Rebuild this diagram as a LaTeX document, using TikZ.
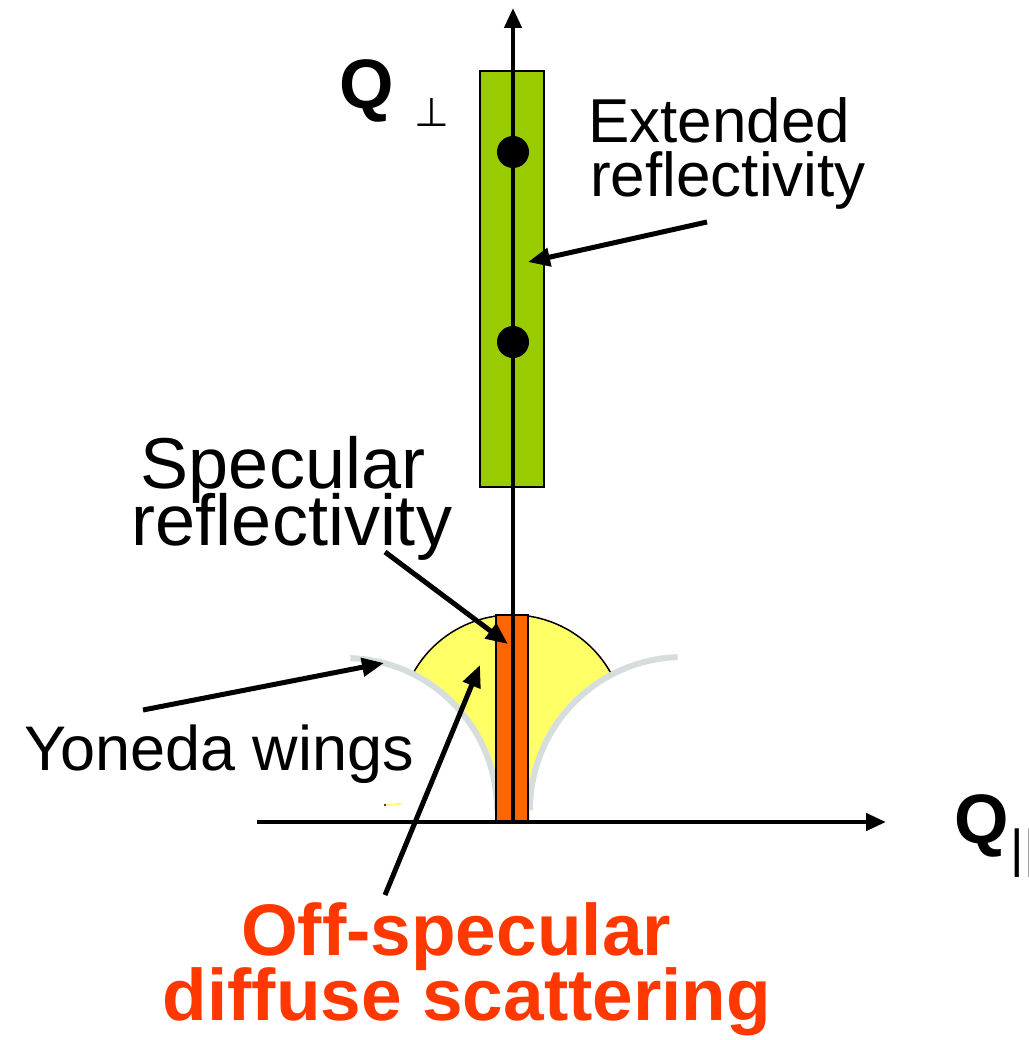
\documentclass[tikz,border=0pt]{standalone}
\usepackage{fontspec}
\setmainfont{Liberation Sans}
\newfontfamily\djv{DejaVu Sans}
\usetikzlibrary{arrows.meta}
\definecolor{grn}{RGB}{153,204,0}
\definecolor{org}{RGB}{255,102,0}
\definecolor{yel}{RGB}{255,255,102}
\definecolor{wingc}{RGB}{214,221,221}
\definecolor{offc}{RGB}{255,56,0}
\tikzset{
  axis/.style={line width=4.5pt,-{Triangle[length=20pt,width=17pt]}},
  pointer/.style={line width=5pt,-{Triangle[length=22pt,width=18pt]}},
  lbl/.style={inner sep=0pt,anchor=base},
  dot/.style={circle,fill=black,minimum size=32pt,inner sep=0pt},
  wing/.style={wingc,line width=6pt},
}
\begin{document}
\begin{tikzpicture}[x=1pt,y=-1pt]
\useasboundingbox (0,0) rectangle (1028,1040);
% yellow diffuse region
\begin{scope}
  \clip (0,0) rectangle (1028,822);
  \clip (512,728) circle (113pt);
  \fill[yel,even odd rule] (0,0) rectangle (1028,1040) (345,810) circle (152pt) (683,810) circle (153pt);
\end{scope}
\draw[line width=1.5pt] (412.8,673.8) arc[start angle=151.4,end angle=28.2,radius=113pt];
% Yoneda wings
\draw[wing] (350.3,658.1) arc[start angle=88,end angle=0,radius=152pt];
\draw[wing] (530,810) arc[start angle=180,end angle=92,radius=153pt];
% small speck
\draw[yel,line width=2pt] (386,805) -- (401,804);
\fill (385,805) circle (1.2pt);
% rectangles
\node[draw=black,line width=1.5pt,fill=org,minimum width=32pt,minimum height=207pt,inner sep=0pt] (spec) at (512,718.5) {};
\node[draw=black,line width=2pt,fill=grn,minimum width=64pt,minimum height=416pt,inner sep=0pt] (ext) at (512,279) {};
% axes
\coordinate (O) at (513,822);
\coordinate (ytip) at (513,8);
\coordinate (xs) at (257,822);
\coordinate (xtip) at (886,822);
\draw[axis] (O) -- (ytip);
\draw[axis] (xs) -- (xtip);
% dots
\node[dot] (d1) at (513,152) {};
\node[dot] (d2) at (513,342) {};
% labels
\node[lbl,font=\fontsize{70}{76}\selectfont\bfseries] (qperp) at (367,109) {Q};
\node[lbl,font=\fontsize{40}{44}\selectfont\djv] (perp) at (432,127) {⊥};
\node[lbl,font=\fontsize{70}{76}\selectfont\bfseries] (qpar) at (982,843) {Q};
\node[inner sep=0pt,anchor=base west,font=\fontsize{52}{56}\selectfont] (par) at (1010.3,866) {||};
\node[lbl,font=\fontsize{62}{70}\selectfont] (ext1) at (719,143) {Extended};
\node[lbl,font=\fontsize{62}{70}\selectfont] (ext2) at (728,197) {reflectivity};
\node[lbl,font=\fontsize{72}{78}\selectfont] (sp1) at (283,488) {Specular};
\node[lbl,font=\fontsize{72}{78}\selectfont] (sp2) at (292,545) {reflectivity};
\node[lbl,font=\fontsize{63}{70}\selectfont] (yon) at (219,770) {Yoneda wings};
\node[lbl,font=\fontsize{73}{78}\selectfont\bfseries,text=offc] (off1) at (456,955) {Off-specular};
\node[lbl,font=\fontsize{73}{78}\selectfont\bfseries,text=offc] (off2) at (467,1020) {diffuse scattering};
% pointer arrows
\coordinate (a1s) at (707,222);
\coordinate (a1e) at (528,262);
\coordinate (a2s) at (385,552);
\coordinate (a2e) at (508,644);
\coordinate (a3s) at (143,710);
\coordinate (a3e) at (384,663);
\coordinate (a4s) at (385,895);
\coordinate (a4e) at (480,665);
\draw[pointer] (a1s) -- (a1e);
\draw[pointer] (a2s) -- (a2e);
\draw[pointer] (a3s) -- (a3e);
\draw[pointer] (a4s) -- (a4e);
\end{tikzpicture}
\end{document}
